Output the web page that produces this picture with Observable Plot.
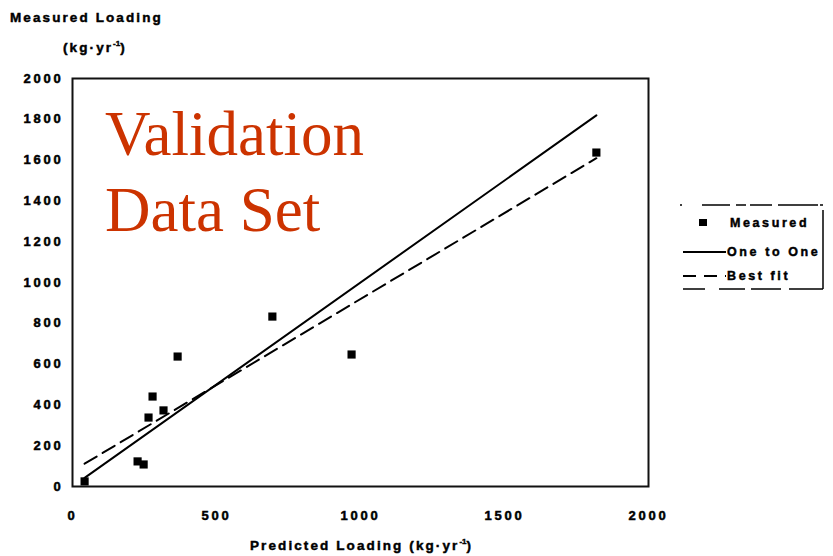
<!DOCTYPE html>
<html>
<head>
<meta charset="utf-8">
<script src="https://cdn.jsdelivr.net/npm/d3@7"></script>
<script src="https://cdn.jsdelivr.net/npm/@observablehq/plot@0.6"></script>
<style>
  html, body { margin: 0; padding: 0; background: #fff; }
  #wrap { position: relative; width: 833px; height: 556px; overflow: hidden; font-family: "Liberation Sans", Arial, sans-serif; }
  #wrap svg.plot { position: absolute; left: 0; top: 0; }
  #wrap svg.plot g[aria-label$="tick label"] text { stroke: #000; stroke-width: 0.5px; }
  .lbl { position: absolute; font-weight: bold; font-size: 13.5px; letter-spacing: 2.1px; color: #000; white-space: nowrap; line-height: 1; -webkit-text-stroke: 0.45px #000; }
  .lbl sup { font-size: 8px; letter-spacing: 0; }
  #overlay { position: absolute; left: 105px; top: 96px; font-family: "Liberation Serif", "Times New Roman", serif; font-size: 63px; color: #cc3300; line-height: 76px; white-space: nowrap; }
  #legend { position: absolute; left: 0; top: 0; }
</style>
</head>
<body>
<div id="wrap">
  <div class="lbl" style="left:10px; top:11px;">Measured Loading</div>
  <div class="lbl" style="left:63px; top:40px;">(kg·yr<sup>-1</sup>)</div>
  <div class="lbl" style="left:250px; top:538px;">Predicted Loading (kg·yr<sup>-1</sup>)</div>
  <div id="overlay">Validation<br>Data Set</div>
</div>
<script>
// Data
const predicted = [42, 226, 247, 264, 278, 316, 365, 694, 969, 1819];
const measured  = [25, 123, 108, 338, 441, 373, 637, 833, 647, 1637];
const xTicks = [0, 500, 1000, 1500, 2000];
const yTicks = [0, 200, 400, 600, 800, 1000, 1200, 1400, 1600, 1800, 2000];
const legendLabels = ["Measured", "One to One", "Best fit"];

const points = predicted.map((p, i) => ({predicted: p, measured: measured[i]}));
const extent = d3.extent(predicted);
const oneToOne = extent.map(v => ({predicted: v, measured: v}));

const plot = Plot.plot({
  width: 833,
  height: 556,
  marginLeft: 72,
  marginRight: 185,
  marginTop: 78,
  marginBottom: 70,
  style: {fontFamily: "'Liberation Sans', Arial, sans-serif", fontSize: "13px", fontWeight: "bold", letterSpacing: "2.8px", color: "#000", background: "#fff"},
  x: {domain: [0, 2000], ticks: xTicks},
  y: {domain: [0, 2000], ticks: yTicks},
  marks: [
    Plot.axisX({ticks: xTicks, tickSize: 0, tickPadding: 24, label: null, tickFormat: d => String(d)}),
    Plot.axisY({ticks: yTicks, tickSize: 0, tickPadding: 9, label: null, tickFormat: d => String(d)}),
    Plot.frame({stroke: "#111", strokeWidth: 2}),
    Plot.line(oneToOne, {x: "predicted", y: "measured", stroke: "#000", strokeWidth: 2}),
    Plot.linearRegressionY(points, {x: "predicted", y: "measured", ci: 0, stroke: "#000", strokeWidth: 2, strokeDasharray: "14,7"}),
    Plot.dot(points, {x: "predicted", y: "measured", symbol: "square", r: 4.6, fill: "#000", stroke: "none"})
  ]
});
plot.classList.add("plot");
const wrap = document.getElementById("wrap");
wrap.insertBefore(plot, wrap.firstChild);

// Legend overlay
const lg = d3.create("svg").attr("id", "legend").attr("width", 833).attr("height", 556);
lg.append("line").attr("x1", 680).attr("x2", 823).attr("y1", 205).attr("y2", 205)
  .attr("stroke", "#000").attr("stroke-width", 1.5).attr("stroke-dasharray", "2,20,28,6,10,4,22,6,40");
lg.append("line").attr("x1", 683).attr("x2", 823).attr("y1", 289).attr("y2", 289)
  .attr("stroke", "#000").attr("stroke-width", 1.5).attr("stroke-dasharray", "22,14,26,6,30,8,40");
lg.append("line").attr("x1", 823).attr("x2", 823).attr("y1", 210).attr("y2", 289)
  .attr("stroke", "#000").attr("stroke-width", 1.5);
lg.append("rect").attr("x", 699).attr("y", 219).attr("width", 8).attr("height", 7).attr("fill", "#000");
lg.append("line").attr("x1", 683).attr("x2", 726).attr("y1", 252).attr("y2", 252).attr("stroke", "#000").attr("stroke-width", 2);
lg.append("line").attr("x1", 683).attr("x2", 726).attr("y1", 276).attr("y2", 276).attr("stroke", "#000").attr("stroke-width", 2).attr("stroke-dasharray", "13,8");
const ys = [227, 256, 280], xs = [730, 727, 727];
legendLabels.forEach((t, i) => {
  lg.append("text").attr("x", xs[i]).attr("y", ys[i]).text(t)
    .attr("font-family", "'Liberation Sans', Arial, sans-serif").attr("font-size", 12.5).attr("font-weight", "bold")
    .attr("letter-spacing", "2.6px").attr("stroke", "#000").attr("stroke-width", 0.45);
});
wrap.appendChild(lg.node());
</script>
</body>
</html>
